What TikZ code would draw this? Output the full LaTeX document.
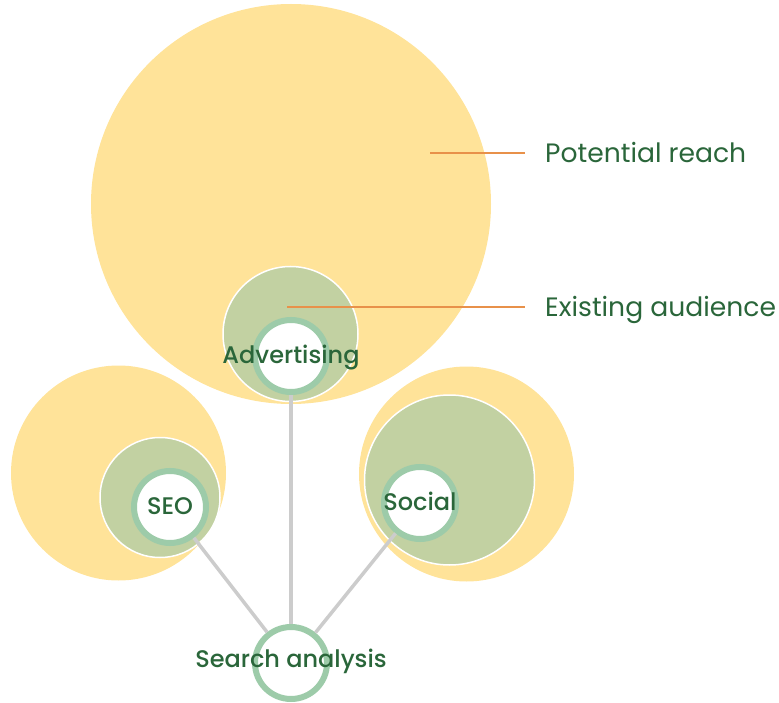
\documentclass[tikz,border=0pt]{standalone}
\usepackage{fontspec}
\setmainfont{Poppins}
\newfontfamily\poppinsmedium{Poppins Medium}

\definecolor{reachyellow}{HTML}{FFE399}
\definecolor{audiencegreen}{HTML}{C2D1A2}
\definecolor{ringgreen}{HTML}{9DCBA9}
\definecolor{textgreen}{HTML}{2A663A}
\definecolor{pointerorange}{HTML}{E8914A}
\definecolor{linkgray}{HTML}{CCCCCC}

\tikzset{
  reach/.style={circle, fill=reachyellow, inner sep=0pt, minimum size=#1},
  audience/.style={circle, fill=audiencegreen, draw=white, line width=1.5pt, inner sep=0pt, minimum size=#1},
  channel/.style={circle, draw=ringgreen, fill=white, line width=6pt, inner sep=0pt, minimum size=72pt},
  channeltext/.style={text=textgreen, font=\poppinsmedium\fontsize{24}{28}\selectfont, inner sep=0pt, text height=17pt, text depth=0pt, yshift=1.5pt},
  legendtext/.style={text=textgreen, font=\fontsize{26.6}{32}\selectfont, inner sep=0pt, text height=19pt, text depth=0pt, anchor=west},
  link/.style={draw=linkgray, line width=3.5pt},
  pointer/.style={draw=pointerorange, line width=1.8pt, shorten >=20pt}
}

\begin{document}
\begin{tikzpicture}[x=1pt, y=-1pt]
  \useasboundingbox (0,0) rectangle (779,703);

  % reach circles
  \node[reach=400pt] (advreach) at (291,204) {};
  \node[reach=215pt] (seoreach) at (118.5,473) {};
  \node[reach=215pt] (socialreach) at (466.5,474) {};

  % existing audiences
  \node[audience=135pt] (advaudience) at (290.5,334) {};
  \node[audience=120pt] (seoaudience) at (160,497.5) {};
  \node[audience=170pt] (socialaudience) at (449.5,480) {};

  % links to search
  \node[channel] (search) at (291,663) {};
  \node[channel] (adv) at (291,356) {};
  \node[channel] (seo) at (170,507) {};
  \node[channel] (social) at (420,503) {};
  \draw[link] (adv) -- (search);
  \draw[link] (seo) -- (search);
  \draw[link] (social) -- (search);

  % channel names
  \node[channeltext] (advname) at (adv) {Advertising};
  \node[channeltext] (seoname) at (seo) {SEO};
  \node[channeltext] (socialname) at (social) {Social};
  \node[channeltext, yshift=3pt] (searchname) at (search) {Search analysis};

  % legend
  \coordinate (reachpt) at (430,153);
  \coordinate (audiencept) at (287,307);
  \node[legendtext] (reachlabel) at (545,153) {Potential reach};
  \node[legendtext] (audiencelabel) at (545,307) {Existing audience};
  \draw[pointer] (reachpt) -- (reachlabel.west);
  \draw[pointer] (audiencept) -- (audiencelabel.west);
\end{tikzpicture}
\end{document}
